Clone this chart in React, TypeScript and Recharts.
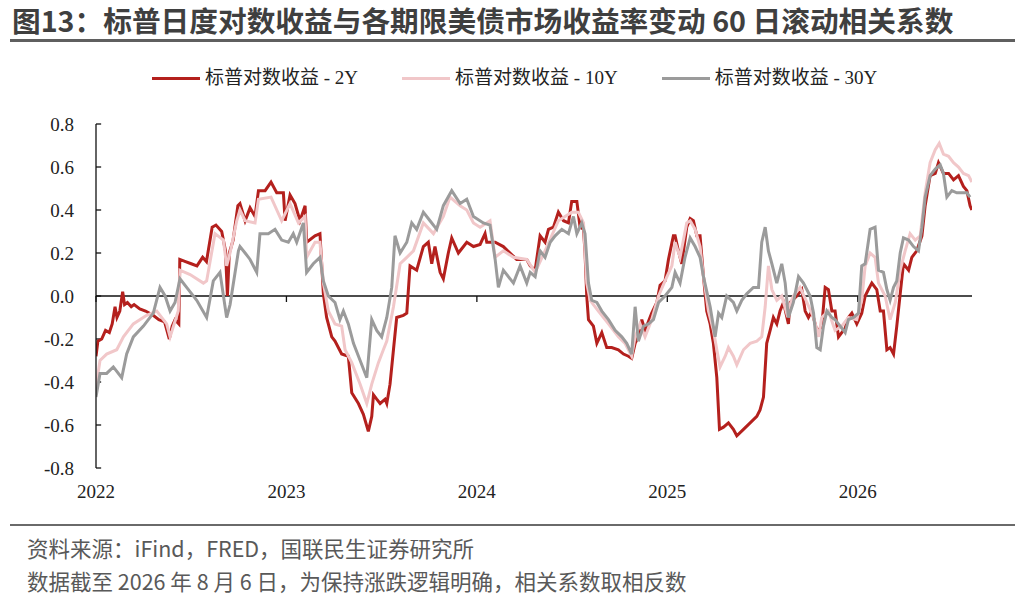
import { LineChart, Line, XAxis, YAxis, ReferenceLine } from 'recharts'

// [decimal year, correlation]
const SP_2Y: [number, number][] = [
  [2022.0, -0.28], [2022.01, -0.21], [2022.03, -0.2], [2022.05, -0.16], [2022.07, -0.17], [2022.085, -0.13],
  [2022.1, -0.05], [2022.11, -0.1], [2022.125, -0.07], [2022.14, 0.02], [2022.15, -0.04], [2022.165, -0.03],
  [2022.185, -0.05], [2022.2, -0.04], [2022.23, -0.06], [2022.26, -0.07], [2022.3, -0.09], [2022.33, -0.11],
  [2022.36, -0.12], [2022.385, -0.2], [2022.4, -0.14], [2022.415, -0.11], [2022.435, -0.13], [2022.44, 0.17],
  [2022.47, 0.16], [2022.5, 0.15], [2022.53, 0.14], [2022.56, 0.18], [2022.58, 0.16], [2022.61, 0.32],
  [2022.63, 0.33], [2022.66, 0.3], [2022.68, 0.21], [2022.69, 0.0], [2022.7, 0.2], [2022.72, 0.26],
  [2022.745, 0.42], [2022.756, 0.43], [2022.783, 0.35], [2022.809, 0.41], [2022.835, 0.37], [2022.853, 0.49],
  [2022.888, 0.49], [2022.919, 0.53], [2022.949, 0.48], [2022.984, 0.48], [2022.993, 0.35], [2023.019, 0.47],
  [2023.045, 0.43], [2023.071, 0.35], [2023.098, 0.42], [2023.106, 0.25], [2023.15, 0.28], [2023.176, 0.29],
  [2023.194, 0.01], [2023.211, -0.1], [2023.238, -0.19], [2023.255, -0.21], [2023.29, -0.27], [2023.325, -0.28],
  [2023.343, -0.45], [2023.378, -0.5], [2023.404, -0.55], [2023.43, -0.63], [2023.448, -0.56], [2023.457, -0.46],
  [2023.474, -0.48], [2023.492, -0.5], [2023.518, -0.48], [2023.527, -0.5], [2023.544, -0.41], [2023.562, -0.25],
  [2023.579, -0.1], [2023.614, -0.09], [2023.632, -0.08], [2023.649, 0.14], [2023.684, 0.12], [2023.719, 0.23],
  [2023.745, 0.25], [2023.763, 0.15], [2023.78, 0.23], [2023.807, 0.11], [2023.824, 0.08], [2023.85, 0.2],
  [2023.868, 0.27], [2023.903, 0.2], [2023.947, 0.25], [2023.982, 0.23], [2024.017, 0.24], [2024.043, 0.29],
  [2024.052, 0.25], [2024.096, 0.25], [2024.139, 0.23], [2024.174, 0.2], [2024.209, 0.17], [2024.262, 0.17],
  [2024.28, 0.14], [2024.306, 0.12], [2024.332, 0.28], [2024.358, 0.25], [2024.376, 0.31], [2024.402, 0.32],
  [2024.428, 0.39], [2024.455, 0.35], [2024.481, 0.34], [2024.498, 0.44], [2024.525, 0.44], [2024.542, 0.32],
  [2024.56, 0.31], [2024.568, 0.2], [2024.577, 0.0], [2024.586, -0.11], [2024.612, -0.14], [2024.63, -0.22],
  [2024.656, -0.17], [2024.682, -0.24], [2024.708, -0.24], [2024.743, -0.25], [2024.77, -0.27], [2024.796, -0.28],
  [2024.813, -0.29], [2024.831, -0.22], [2024.848, -0.19], [2024.866, -0.11], [2024.883, -0.16], [2024.918, -0.08],
  [2024.945, -0.03], [2024.962, 0.05], [2024.988, 0.07], [2025.006, 0.17], [2025.032, 0.28], [2025.041, 0.28],
  [2025.058, 0.21], [2025.076, 0.15], [2025.102, 0.32], [2025.12, 0.36], [2025.137, 0.35], [2025.155, 0.28],
  [2025.172, 0.28], [2025.19, 0.09], [2025.207, -0.07], [2025.225, -0.13], [2025.242, -0.22], [2025.26, -0.38],
  [2025.274, -0.62], [2025.295, -0.61], [2025.321, -0.59], [2025.347, -0.62], [2025.365, -0.65], [2025.4, -0.62],
  [2025.435, -0.59], [2025.47, -0.56], [2025.487, -0.53], [2025.505, -0.47], [2025.522, -0.22], [2025.54, -0.16],
  [2025.557, -0.1], [2025.575, -0.13], [2025.592, -0.07], [2025.61, -0.03], [2025.636, -0.13], [2025.645, -0.03],
  [2025.68, 0.0], [2025.706, 0.03], [2025.724, -0.07], [2025.741, -0.1], [2025.759, -0.07], [2025.785, -0.16],
  [2025.794, -0.16], [2025.811, -0.14], [2025.829, 0.04], [2025.846, 0.03], [2025.864, -0.07], [2025.881, -0.07],
  [2025.899, -0.19], [2025.916, -0.17], [2025.934, -0.15], [2025.951, -0.1], [2025.969, -0.08], [2025.995, -0.13],
  [2026.021, -0.08], [2026.039, 0.0], [2026.056, 0.03], [2026.074, 0.06], [2026.1, 0.03], [2026.118, -0.07],
  [2026.135, -0.07], [2026.153, -0.25], [2026.17, -0.24], [2026.188, -0.27], [2026.205, -0.14], [2026.223, 0.01],
  [2026.24, 0.15], [2026.267, 0.12], [2026.284, 0.18], [2026.31, 0.21], [2026.337, 0.28], [2026.354, 0.42],
  [2026.38, 0.56], [2026.407, 0.57], [2026.424, 0.62], [2026.45, 0.57], [2026.477, 0.57], [2026.503, 0.54],
  [2026.529, 0.56], [2026.555, 0.51], [2026.573, 0.49], [2026.59, 0.42], [2026.599, 0.4],
]

const SP_10Y: [number, number][] = [
  [2022.0, -0.45], [2022.004, -0.4], [2022.021, -0.3], [2022.056, -0.27], [2022.109, -0.25], [2022.144, -0.19],
  [2022.196, -0.13], [2022.266, -0.09], [2022.319, -0.07], [2022.371, -0.13], [2022.389, -0.19], [2022.432, -0.07],
  [2022.441, 0.12], [2022.494, 0.1], [2022.564, 0.06], [2022.581, 0.07], [2022.625, 0.29], [2022.669, 0.26],
  [2022.686, 0.14], [2022.704, 0.2], [2022.739, 0.35], [2022.756, 0.4], [2022.783, 0.35], [2022.835, 0.34],
  [2022.853, 0.45], [2022.919, 0.46], [2022.975, 0.35], [2023.019, 0.43], [2023.063, 0.34], [2023.098, 0.37],
  [2023.106, 0.18], [2023.15, 0.25], [2023.176, 0.25], [2023.194, 0.06], [2023.22, -0.07], [2023.255, -0.13],
  [2023.29, -0.14], [2023.308, -0.25], [2023.343, -0.31], [2023.387, -0.41], [2023.422, -0.5], [2023.448, -0.41],
  [2023.483, -0.31], [2023.509, -0.25], [2023.527, -0.21], [2023.562, -0.05], [2023.597, 0.15], [2023.632, 0.18],
  [2023.667, 0.21], [2023.719, 0.34], [2023.772, 0.29], [2023.824, 0.37], [2023.859, 0.46], [2023.912, 0.42],
  [2023.947, 0.4], [2023.982, 0.34], [2024.017, 0.32], [2024.069, 0.35], [2024.096, 0.18], [2024.139, 0.21],
  [2024.192, 0.18], [2024.262, 0.17], [2024.306, 0.11], [2024.358, 0.21], [2024.428, 0.35], [2024.498, 0.39],
  [2024.533, 0.39], [2024.56, 0.34], [2024.577, 0.06], [2024.595, -0.02], [2024.638, -0.07], [2024.691, -0.13],
  [2024.743, -0.19], [2024.778, -0.22], [2024.813, -0.28], [2024.831, -0.19], [2024.857, -0.13], [2024.883, -0.19],
  [2024.918, -0.11], [2024.954, 0.0], [2024.988, 0.07], [2025.024, 0.14], [2025.041, 0.25], [2025.067, 0.18],
  [2025.102, 0.34], [2025.12, 0.35], [2025.146, 0.31], [2025.172, 0.23], [2025.19, 0.09], [2025.216, -0.07],
  [2025.242, -0.16], [2025.26, -0.25], [2025.277, -0.33], [2025.304, -0.28], [2025.321, -0.24], [2025.347, -0.28],
  [2025.365, -0.32], [2025.4, -0.25], [2025.435, -0.22], [2025.47, -0.21], [2025.496, -0.19], [2025.514, -0.05],
  [2025.531, 0.14], [2025.549, 0.03], [2025.575, -0.02], [2025.601, 0.0], [2025.627, -0.08], [2025.662, 0.0],
  [2025.697, 0.04], [2025.733, -0.03], [2025.768, -0.1], [2025.795, -0.19], [2025.811, -0.1], [2025.846, -0.07],
  [2025.881, -0.16], [2025.916, -0.14], [2025.951, -0.1], [2025.995, -0.11], [2026.021, -0.02], [2026.039, 0.14],
  [2026.065, 0.2], [2026.091, 0.18], [2026.109, 0.06], [2026.144, 0.0], [2026.17, -0.11], [2026.197, -0.03],
  [2026.223, 0.12], [2026.249, 0.21], [2026.275, 0.29], [2026.302, 0.26], [2026.328, 0.28], [2026.354, 0.48],
  [2026.38, 0.62], [2026.407, 0.68], [2026.428, 0.71], [2026.45, 0.66], [2026.477, 0.65], [2026.503, 0.62],
  [2026.529, 0.6], [2026.555, 0.57], [2026.582, 0.56], [2026.599, 0.53],
]

const SP_30Y: [number, number][] = [
  [2022.0, -0.47], [2022.021, -0.36], [2022.056, -0.36], [2022.091, -0.33], [2022.135, -0.38], [2022.161, -0.27],
  [2022.196, -0.19], [2022.249, -0.14], [2022.301, -0.08], [2022.336, 0.04], [2022.363, 0.0], [2022.389, -0.07],
  [2022.415, -0.03], [2022.441, 0.08], [2022.476, 0.04], [2022.529, -0.02], [2022.581, -0.1], [2022.616, 0.07],
  [2022.651, 0.11], [2022.686, -0.1], [2022.704, -0.04], [2022.748, 0.21], [2022.756, 0.23], [2022.783, 0.2],
  [2022.809, 0.17], [2022.844, 0.11], [2022.861, 0.29], [2022.905, 0.29], [2022.94, 0.31], [2022.975, 0.26],
  [2023.01, 0.25], [2023.036, 0.29], [2023.054, 0.25], [2023.089, 0.34], [2023.106, 0.11], [2023.141, 0.15],
  [2023.176, 0.18], [2023.194, 0.07], [2023.22, 0.0], [2023.255, -0.03], [2023.281, -0.11], [2023.299, -0.07],
  [2023.325, -0.13], [2023.352, -0.22], [2023.387, -0.3], [2023.422, -0.38], [2023.448, -0.11], [2023.474, -0.16],
  [2023.5, -0.19], [2023.527, -0.1], [2023.553, 0.04], [2023.57, 0.28], [2023.597, 0.2], [2023.632, 0.25],
  [2023.658, 0.34], [2023.684, 0.31], [2023.719, 0.39], [2023.754, 0.35], [2023.789, 0.31], [2023.824, 0.42],
  [2023.868, 0.49], [2023.912, 0.43], [2023.947, 0.45], [2023.982, 0.37], [2024.034, 0.34], [2024.069, 0.33],
  [2024.096, 0.17], [2024.113, 0.04], [2024.139, 0.12], [2024.192, 0.06], [2024.227, 0.14], [2024.262, 0.06],
  [2024.28, 0.11], [2024.306, 0.09], [2024.332, 0.21], [2024.358, 0.18], [2024.385, 0.25], [2024.411, 0.28],
  [2024.446, 0.31], [2024.481, 0.29], [2024.507, 0.37], [2024.525, 0.29], [2024.551, 0.34], [2024.568, 0.29],
  [2024.586, 0.06], [2024.603, -0.02], [2024.63, -0.03], [2024.656, -0.07], [2024.691, -0.11], [2024.726, -0.16],
  [2024.761, -0.19], [2024.787, -0.22], [2024.813, -0.27], [2024.831, -0.05], [2024.848, -0.21], [2024.875, -0.14],
  [2024.901, -0.13], [2024.927, -0.11], [2024.954, -0.03], [2024.988, 0.0], [2025.024, 0.04], [2025.041, 0.11],
  [2025.067, 0.06], [2025.093, 0.18], [2025.12, 0.27], [2025.146, 0.23], [2025.172, 0.18], [2025.19, 0.09],
  [2025.225, -0.05], [2025.251, -0.19], [2025.269, -0.08], [2025.286, -0.1], [2025.312, 0.0], [2025.347, -0.03],
  [2025.365, -0.07], [2025.391, -0.02], [2025.417, 0.01], [2025.452, 0.04], [2025.479, 0.04], [2025.496, 0.25],
  [2025.514, 0.32], [2025.531, 0.21], [2025.549, 0.15], [2025.575, 0.06], [2025.601, 0.15], [2025.619, 0.06],
  [2025.636, -0.1], [2025.662, -0.03], [2025.689, 0.09], [2025.715, 0.06], [2025.75, 0.0], [2025.768, -0.08],
  [2025.785, -0.24], [2025.803, -0.25], [2025.82, -0.14], [2025.838, -0.07], [2025.864, -0.1], [2025.881, -0.11],
  [2025.908, -0.14], [2025.934, -0.17], [2025.951, -0.11], [2025.978, -0.1], [2026.004, -0.08], [2026.021, 0.14],
  [2026.039, 0.15], [2026.065, 0.31], [2026.091, 0.32], [2026.109, 0.12], [2026.135, 0.11], [2026.153, 0.03],
  [2026.17, -0.02], [2026.188, 0.04], [2026.205, 0.07], [2026.223, 0.2], [2026.24, 0.27], [2026.267, 0.26],
  [2026.293, 0.23], [2026.319, 0.21], [2026.337, 0.32], [2026.354, 0.46], [2026.38, 0.56], [2026.407, 0.59],
  [2026.433, 0.61], [2026.45, 0.57], [2026.468, 0.46], [2026.494, 0.49], [2026.52, 0.48], [2026.547, 0.48],
  [2026.573, 0.48], [2026.59, 0.46],
]

const YEAR_TICKS = [2022, 2023, 2024, 2025, 2026]
const Y_TICKS = [-0.8, -0.6, -0.4, -0.2, 0, 0.2, 0.4, 0.6, 0.8]

const TITLE = '图13：标普日度对数收益与各期限美债市场收益率变动 60 日滚动相关系数'
const SOURCE = '资料来源：iFind，FRED，国联民生证券研究所'
const NOTE = '数据截至 2026 年 8 月 6 日，为保持涨跌逻辑明确，相关系数取相反数'

const SERIES = [
  { name: '标普对数收益 - 2Y', color: '#B4201D', points: SP_2Y },
  { name: '标普对数收益 - 10Y', color: '#F1C7C9', points: SP_10Y },
  { name: '标普对数收益 - 30Y', color: '#9B9B9B', points: SP_30Y },
]

const SERIF = "'Liberation Serif', 'Times New Roman', 'Noto Sans CJK SC', serif"
const SANS = "'Noto Sans CJK SC', 'Noto Sans', sans-serif"

export default function App() {
  return (
    <div style={{ position: 'absolute', left: 0, top: 0, width: 1024, height: 609, background: '#fff' }}>
      <div
        style={{
          position: 'absolute', left: 12, top: 3, fontFamily: SANS, fontSize: 28.7, fontWeight: 700,
          color: '#3f3f3f', lineHeight: '34px', whiteSpace: 'nowrap',
        }}
      >
        {TITLE}
      </div>
      <div style={{ position: 'absolute', left: 10, top: 39, width: 1005, height: 3, background: '#5f5f5f' }} />

      <div style={{ position: 'absolute', left: 152, top: 65, display: 'flex', alignItems: 'center', gap: 44 }}>
        {SERIES.map(s => (
          <div key={s.name} style={{ display: 'flex', alignItems: 'center' }}>
            <div style={{ width: 48, height: 3, background: s.color, marginRight: 5 }} />
            <span style={{ fontFamily: SERIF, fontSize: 19, color: '#222', lineHeight: '26px', whiteSpace: 'nowrap' }}>
              {s.name}
            </span>
          </div>
        ))}
      </div>

      <div style={{ position: 'absolute', left: 0, top: 0 }}>
        <LineChart width={1024} height={515} margin={{ top: 124, right: 52, left: 56, bottom: 17 }}>
          <XAxis
            type="number"
            dataKey="t"
            domain={[2022, 2026.6]}
            ticks={YEAR_TICKS}
            allowDataOverflow
            axisLine={false}
            tickLine={false}
            tickSize={0}
            tickMargin={17}
            height={30}
            tick={{ fill: '#222', fontSize: 19, fontFamily: SERIF }}
          />
          <YAxis
            type="number"
            domain={[-0.8, 0.8]}
            ticks={Y_TICKS}
            allowDataOverflow
            width={40}
            axisLine={{ stroke: '#111', strokeWidth: 1.3 }}
            tickLine={false}
            tickSize={0}
            tickMargin={22}
            tickFormatter={(v: number) => v.toFixed(1)}
            tick={{ fill: '#222', fontSize: 19, fontFamily: SERIF }}
          />
          <ReferenceLine y={0} stroke="#111" strokeWidth={1.3} />
          {Y_TICKS.map(v => (
            <ReferenceLine
              key={`yt${v}`}
              segment={[{ x: 2022, y: v }, { x: 2022.027, y: v }]}
              stroke="#111"
              strokeWidth={1.3}
              ifOverflow="visible"
            />
          ))}
          {YEAR_TICKS.map(yr => (
            <ReferenceLine
              key={`xt${yr}`}
              segment={[{ x: yr, y: 0 }, { x: yr, y: -0.028 }]}
              stroke="#111"
              strokeWidth={1.3}
              ifOverflow="visible"
            />
          ))}
          {SERIES.map(s => (
            <Line
              key={s.name}
              data={s.points.map(([t, v]) => ({ t, v }))}
              dataKey="v"
              type="linear"
              stroke={s.color}
              strokeWidth={3}
              dot={false}
              isAnimationActive={false}
            />
          ))}
        </LineChart>
      </div>

      <div style={{ position: 'absolute', left: 10, top: 524, width: 1005, height: 2, background: '#6a6a6a' }} />
      <div
        style={{
          position: 'absolute', left: 27, top: 533, fontFamily: SANS, fontSize: 21.5, color: '#595959',
          lineHeight: '30px', whiteSpace: 'nowrap',
        }}
      >
        {SOURCE}
      </div>
      <div
        style={{
          position: 'absolute', left: 27, top: 566, fontFamily: SANS, fontSize: 21.5, color: '#595959',
          lineHeight: '30px', whiteSpace: 'nowrap',
        }}
      >
        {NOTE}
      </div>
    </div>
  )
}
